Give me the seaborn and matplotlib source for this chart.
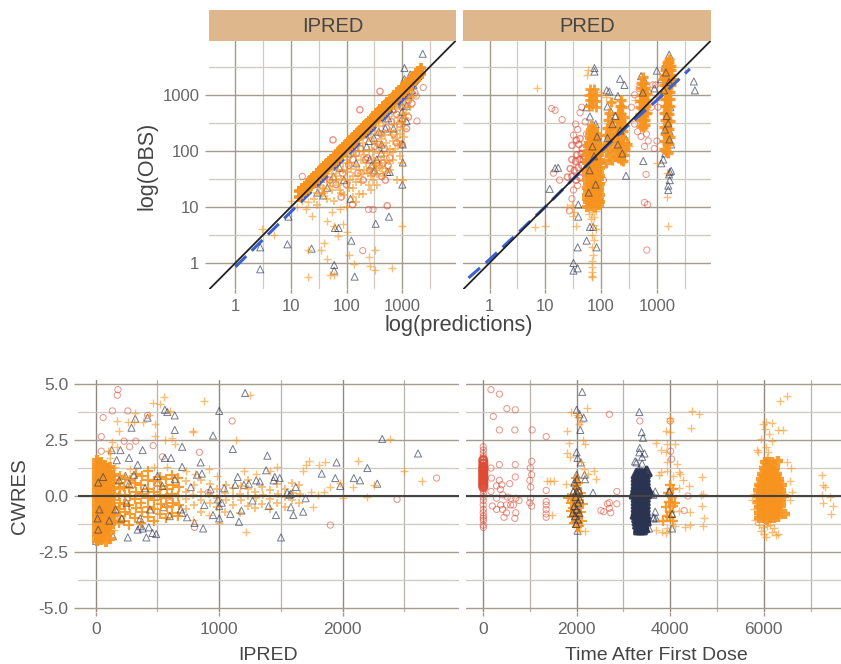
import matplotlib
matplotlib.use("Agg")
import matplotlib.pyplot as plt
import pandas as pd
import seaborn as sns

sns.set_theme(style="white")
plt.rcParams['font.family'] = ['Liberation Sans', 'DejaVu Sans']

# IPRED vs OBS
tl_band_x = [14,16,18,20,22, 24,27,30,33,36, 40,44,49,54,60, 66,73,80,88,97, 107,118,130,143,158,
             174,192,211,233,257, 283,312,344,379,418, 461,508,560,617,680, 750,826,911,1004,1107,
             1220,1345,1483,1635,1802, 1987,2190]
tl_band_low = [15,17,19,21,23, 26,28,32,35,38, 42,47,51,57,63, 70,77,85,93,103, 113,125,137,151,167,
               184,203,223,246,272, 299,330,363,400,442, 487,537,592,652,719, 793,873,963,1061,1170,
               1289,1421,1567,1728,1905, 2100,2315]
tl_band_high = [19,22,24,27,30, 33,36,40,45,49, 54,60,67,73,81, 89,99,108,119,131, 145,159,176,193,213,
                235,259,285,315,347, 382,421,464,512,564, 622,686,756,833,918, 1012,1115,1230,1355,1494,
                1647,1816,2002,2207,2433, 2682,2957]
tl_plus = [(10,13),(13,10),(16,13),(20,12),(26,14),(19,9),(24,7),(30,11),(36,17),(45,14),(40,21),(55,20),
           (60,13),(70,25),(80,18),(95,30),(110,22),(130,35),(150,28),(170,45),(200,38),(220,60),(260,50),
           (300,75),(340,60),(380,90),(430,120),(480,80),(520,140),(600,110),(650,190),(700,150),(800,240),
           (850,130),(950,300),(1050,450),(1150,380),(1250,600),(1350,800),(1500,1100),(1000,60),(1050,30),
           (800,30),(600,45),(450,35),(350,25),(280,20),(200,17),(150,12),(100,10),(75,9),(55,8),(45,5.5),
           (60,4.5),(85,5),(100,3.5),(70,3),(40,2.3),(35,1.7),(20,1.7),(45,1.2),(110,1.4),(135,0.95),(50,0.6),
           (60,0.62),(20,0.55),(250,1.3),(330,1.7),(260,0.9),(330,0.75),(650,0.8),(3,4),(5,3.2),(1000,4.5),
           (130,15),(170,17),(250,25),(300,30),(400,50),(500,60),(700,70),(900,80),(1100,250),(900,200),
           (400,200),(300,150),(200,100),(150,80),(110,60),(85,45),(65,35),(50,28),(38,22),(30,18),
           (240,40),(320,55),(420,70),(560,90),(760,110),(180,28),(130,22),(90,16),(360,38),(520,42),
           (35,28),(45,30),(55,38),(70,45),(85,60),(100,70),(120,85),(140,100),(170,120),(200,140),(240,170),(280,200),
           (330,230),(390,280),(460,330),(550,400),(650,470),(780,560),(920,670),(1100,800),(1300,950),(1500,1300),
           (40,18),(50,24),(65,30),(80,32),(100,42),(120,48),(150,55),(180,70),(210,85),(250,105),(300,100),(350,130),
           (420,160),(500,190),(600,230),(720,300),(850,380),(1000,330),(1200,480),(1400,600),(1600,900),(75,20),(115,30),
           (160,35),(210,45),(275,35),(340,45),(440,50),(580,65),(680,95),(820,170),(960,130),(1080,180)]
tl_circ = [(16,35),(25,30),(30,25),(40,35),(50,30),(65,25),(57,157),(85,40),(100,25),(110,55),(128,11),(150,90),
           (160,40),(174,540),(200,30),(220,70),(260,45),(250,9),(300,9),(350,60),(380,130),(400,1150),(430,35),
           (480,110),(500,30),(540,10.5),(560,55),(700,200),(800,140),(900,300),(1000,130),(1200,250),(1300,400),
           (1800,950),(1850,340),(2400,1350),(80,15),(196,1.66),(600,75),(450,60),(300,40),
           (130,70),(180,110),(240,75),(320,120),(420,200),(520,260),(650,330),(800,450),(1000,600),(1300,800),(1500,700),(1700,1100)]
tl_tri = [(2350,5400),(1100,3000),(2.8,1.9),(2.8,0.77),(8.6,2.15),(23.5,1.8),(9,6.7),(62,4.2),(72,4.2),(60,0.92),
          (60,0.73),(140,0.57),(122,2.5),(335,5),(580,6.7),(118,14),(1010,25),(600,42),(540,42),(1030,62),(1030,130),
          (1200,340),(260,70),(320,45),(58,35),(38,16),(1300,1000),(1500,1200),(1000,500),(700,250),(500,250),
          (420,90),(350,70),(280,55),(150,60),(90,30),(45,22),(30,18),(24,26),(1100,1900),(900,1000),(1400,2300),
          (25,36),(34,32),(60,60),(75,50),(110,90),(180,190),(230,120),(310,170),(380,220),(560,380),(680,560),(820,700),
          (1000,380),(1200,640),(1600,1500),(430,130),(250,150)]
tl_fit_x = [1, 3, 10, 30, 100, 300, 1000, 2500]
tl_fit_y = [0.85, 2.5, 8.2, 24, 80, 240, 790, 2300]

# PRED vs OBS
tr_plus = [(56,10),(66,10.5),(78,10),(92,11),(58,12),(68,12),(80,12.5),(94,12),(55,14),(66,14),(79,14.5),(91,14),
           (57,16),(67,16.5),(80,16),(95,16),(58,19),(69,19),(81,19.5),(93,19),(56,22),(66,22),(78,23),(92,22),
           (59,26),(69,26),(80,26.5),(95,26),(57,30),(67,31),(79,30),(92,31),(58,35),(68,35),(81,36),(94,35),
           (56,42),(66,42),(79,43),(91,42),(58,50),(69,50),(81,51),(95,50),(57,60),(67,60),(79,61),(92,60),
           (58,70),(69,71),(80,70),(94,70),(57,85),(66,85),(78,86),(90,85),(59,100),(68,100),(80,101),(92,100),
           (58,120),(69,120),(81,121),(94,120),(60,140),(70,141),(82,140),(62,170),(72,170),(83,171),(64,200),
           (74,200),(84,201),(66,240),(76,240),(70,280),(60,7.5),(70,8),(80,8.5),(65,6),(75,6.5),(72,4.8),(80,4),
           (68,3.2),(75,2.6),(70,1.9),(72,1.4),(68,1.1),(70,0.85),(68,0.68),(70,0.58),(68,0.55),
           (60,620),(70,640),(80,600),(62,800),(72,820),(82,790),(60,1000),(70,1020),(80,1000),(64,1250),(74,1280),
           (58,2800),(56,2300),(7,1300),(30,11),(25,10),(33,8),(32,7),(35,4.6),(10,4.5),(6.5,4.4),
           (125,60),(140,80),(160,70),(125,100),(145,110),(165,95),(130,140),(150,150),(170,130),(125,190),(145,200),
           (165,180),(130,260),(150,270),(170,240),(135,360),(155,340),(140,480),(185,80),(205,75),(225,70),(250,65),
           (190,110),(210,105),(235,100),(260,85),(190,150),(215,140),(240,135),(270,110),(195,200),(220,190),(245,170),
           (290,130),(195,270),(220,260),(250,230),(200,360),(225,340),(255,300),(205,480),(230,460),(255,400),(215,640),
           (240,600),(225,800),(320,120),(100,1100),(120,900),(150,750),
           (510,280),(560,270),(610,290),(500,360),(550,350),(605,360),(495,460),(545,450),(600,470),(660,480),
           (490,600),(540,590),(590,600),(650,620),(500,780),(550,770),(600,790),(660,800),(510,1000),(560,1000),
           (610,1020),(670,1050),(520,1300),(570,1300),(620,1320),(530,1650),(580,1650),(560,2100),(400,800),
           (1320,110),(1450,100),(1600,90),(1350,150),(1500,140),(1650,130),(1400,200),(1550,190),(1700,180),(1350,270),
           (1500,260),(1650,250),(1400,360),(1550,350),(1700,340),(1350,480),(1500,470),(1650,460),(1400,640),(1550,630),
           (1700,620),(1400,850),(1550,840),(1700,830),(1380,1100),(1540,1100),(1700,1100),(1350,1500),(1480,1500),(1620,1500),
           (1780,1500),(1300,1900),(1440,1900),(1580,1900),(1720,1900),(1860,1900),(1350,2300),(1480,2300),(1620,2300),(1760,2300),
           (1400,2800),(1540,2800),(1680,2800),(1820,2800),(1480,3300),(1620,3300),(1760,3300),(1540,3900),(1680,3900),(1620,4400),
           (1500,40),(1550,15),(1600,4.5),(1000,60)]
tr_circ = [(13,570),(15,530),(20,360),(35,300),(38,240),(32,190),(36,155),(42,165),(30,125),(40,130),(46,110),(37,85),
           (44,90),(50,80),(30,70),(35,65),(41,70),(28,48),(33,45),(39,50),(45,55),(25,34),(30,35),(36,30),(42,33),
           (14,40),(18,30),(32,20),(38,24),(30,14),(27,8.5),(48,70),(52,40),(55,200),(52,330),(45,600),(42,480),
           (110,30),(400,300),(450,220),(520,180),(600,120),(650,200),(700,150),(900,110),(1000,150),(1100,900),
           (800,600),(700,1100),(850,1500),(600,12),(680,11),(640,38),(660,1.7),(480,1300),(400,1000),(350,600),
           (560,850),(950,1500),(1050,600)]
tr_tri = [(1660,5200),(76,3000),(76,2600),(219,1930),(262,1500),(4600,1730),(4800,1200),(126,1200),(140,1150),(520,2150),
          (55,600),(63,410),(15,49),(17,50),(12,21),(280,36),(570,66),(1200,60),(1300,70),(1600,20),(1600,24),(1700,30),
          (1800,44),(1700,42),(1650,38),(39,6.7),(63,4.4),(72,4.4),(55,2.5),(83,1.9),(38,1.9),(32,1),(32,0.73),(38,0.8),
          (95,14),(39,11),(1000,2700),(1200,1900),(900,1300),(1500,700),(1700,220),(1400,90),(1800,130),(150,500),(220,350),
          (280,160),(80,300),(90,150),(60,150),(70,60),(75,28),(110,60),(130,620),(200,950),(600,1800),(1400,3300),(1750,600)]
# dark marks that show on top of the orange columns
tr_tri_top = [(62,45),(80,25),(70,120),(85,180),(60,18),(75,80),(130,170),(160,300),(200,130),(240,90),(180,420),
              (220,230),(1450,2500),(1650,1700),(1500,420),(1680,160),(1400,240),(1600,310),(1350,1200),(560,1100)]
tr_fit_x = [0.42, 1, 3, 10, 30, 100, 300, 1000, 3900]
tr_fit_y = [0.54, 1.15, 3.2, 10, 30, 98, 280, 800, 2900]

# CWRES vs IPRED
bl_plus = [(8,-2.0),(8,-1.85),(10,-1.7),(7,-1.55),(9,-1.4),(8,-1.25),(10,-1.1),(7,-0.95),(9,-0.8),(8,-0.65),(10,-0.5),(7,-0.35),
           (9,-0.2),(8,-0.05),(10,0.1),(7,0.25),(9,0.4),(8,0.55),(10,0.7),(7,0.85),(9,1.0),(8,1.15),(10,1.3),(7,1.45),(9,1.6),
           (40,-1.95),(42,-1.8),(38,-1.65),(41,-1.5),(40,-1.35),(42,-1.2),(38,-1.05),(41,-0.9),(40,-0.75),(42,-0.6),(38,-0.45),
           (41,-0.3),(40,-0.15),(42,0.0),(38,0.15),(41,0.3),(40,0.45),(42,0.6),(38,0.75),(41,0.9),(40,1.05),(42,1.2),(38,1.35),(41,1.5),
           (80,-2.05),(82,-1.8),(78,-1.6),(81,-1.45),(80,-1.3),(82,-1.15),(78,-1.0),(81,-0.85),(80,-0.7),(82,-0.55),(78,-0.4),
           (81,-0.25),(80,-0.1),(82,0.05),(78,0.2),(81,0.35),(80,0.5),(82,0.65),(78,0.8),(81,0.95),(80,1.1),(82,1.25),(78,1.4),
           (115,-1.9),(118,-1.6),(112,-1.4),(116,-1.2),(115,-1.05),(118,-0.9),(112,-0.75),(116,-0.6),(115,-0.45),(118,-0.3),
           (112,-0.15),(116,0.0),(115,0.15),(118,0.3),(112,0.45),(116,0.6),(115,0.75),(118,0.9),(112,1.05),(116,1.3),(115,1.7),(118,2.0),
           (150,-1.5),(155,-1.1),(150,-0.8),(155,-0.5),(150,-0.2),(155,0.1),(150,0.4),(155,0.7),(150,1.0),(155,1.3),(170,2.2),(100,2.0),
           (190,-1.2),(195,-0.9),(190,-0.6),(195,-0.3),(190,0.0),(195,0.3),(190,0.6),(195,0.9),(230,-1.1),(235,-0.7),(230,-0.35),
           (235,0.05),(230,0.4),(235,0.8),(270,-1.3),(275,-0.8),(270,-0.4),(275,0.0),(270,0.35),(275,0.7),(280,1.2),(320,-1.0),(325,-0.55),
           (320,-0.15),(325,0.2),(320,0.6),(325,1.0),(370,-1.2),(375,-0.7),(370,-0.3),(375,0.1),(370,0.5),(375,0.9),(420,-0.95),(425,-0.5),
           (420,-0.1),(425,0.3),(420,0.7),(425,1.1),(470,-1.1),(475,-0.6),(470,-0.2),(475,0.2),(470,0.65),(475,1.3),(520,-0.8),(525,-0.35),
           (520,0.05),(525,0.45),(520,0.85),(570,-1.0),(575,-0.5),(570,-0.1),(575,0.3),(570,0.75),(580,1.3),(620,-0.75),(625,-0.3),(620,0.1),
           (625,0.5),(620,0.95),(670,-0.9),(675,-0.4),(670,0.0),(675,0.4),(670,0.8),(730,-0.6),(735,-0.15),(730,0.2),(735,0.65),(730,1.1),
           (790,-1.05),(795,-0.4),(790,0.05),(795,0.5),(800,1.0),(850,-0.7),(855,-0.2),(850,0.2),(855,0.7),(920,-0.85),(925,-0.3),(920,0.1),
           (925,0.55),(920,1.2),(980,-0.5),(985,-0.1),(980,0.3),(985,0.9),(1050,-0.7),(1055,-0.2),(1050,0.15),(1055,0.5),(1110,-0.4),(1115,0.0),
           (1110,0.35),(1170,-0.75),(1175,-0.2),(1170,0.1),(1175,0.45),(1200,1.1),(1230,-0.45),(1235,0.0),(1230,0.3),(1235,0.7),(1290,-0.55),
           (1295,-0.1),(1290,0.2),(1350,-0.35),(1355,0.05),(1350,0.4),(1410,-0.6),(1415,-0.15),(1410,0.25),(1410,1.1),(1470,-0.3),(1475,0.1),
           (1470,0.55),(1470,1.3),(1530,-0.5),(1535,-0.05),(1530,0.3),(1590,-0.2),(1595,0.15),(1590,0.6),(1650,-0.3),(1655,0.1),(1650,0.5),
           (1680,1.1),(1700,1.4),(1740,0.2),(1730,1.55),(1760,-0.5),(1800,0.05),(1810,1.4),(1850,0.2),(1860,1.5),(1900,0.4),(1980,0.6),
           (2000,-0.1),(2080,0.4),(2120,1.55),(2200,-0.05),(2250,0.5),(2380,2.55),(2500,1.1),(2640,0.65),(1220,-1.6),(1250,4.5),
           (880,4.25),(460,4.15),(550,4.4),(520,4.1),(430,3.6),(380,3.3),(310,3.3),(260,3.3),(170,3.35),(190,2.9),(320,3.7),(480,3.2),
           (600,3.8),(620,2.6),(790,2.9),(790,2.85),(1140,2.5),(560,2.5),(640,2.3),(480,2.7),(130,2.4),(1300,1.0),(1000,-1.2)]
bl_circ = [(180,4.75),(175,4.5),(60,3.5),(135,3.8),(260,3.8),(325,2.45),(230,2.45),(275,2.2),(465,2.25),(45,2.65),(45,2.0),
           (1105,3.35),(840,1.95),(540,1.75),(2760,0.8),(2440,-0.15),(1900,-1.3),(910,0.15),(800,-1.4),(420,3.6),(120,1.2),
           (300,0.5),(600,-0.3),(150,-1.0)]
bl_tri = [(3,-2.0),(140,-1.8),(260,-1.85),(410,-1.85),(490,-1.7),(460,-1.65),(340,-1.5),(360,-1.35),(560,3.85),(580,3.75),(640,3.6),
          (1000,3.8),(1210,4.6),(320,3.45),(420,3.5),(290,3.05),(640,2.95),(700,2.2),(380,2.05),(130,2.05),(200,2.05),(950,2.7),(1110,2.1),
          (560,1.7),(610,1.7),(270,1.7),(170,1.6),(850,1.5),(1390,1.8),(1950,1.5),(2320,2.55),(2610,1.9),(2200,1.25),(1830,1.0),(1380,1.15),
          (1940,0.8),(2090,0.8),(2140,0.7),(2280,0.55),(1980,0.45),(860,1.0),(700,1.3),(340,1.4),(1150,0.85),(1450,0.85),(1200,0.5),(1300,0.7),
          (1580,0.1),(1600,-0.85),(1680,-0.7),(1460,-0.85),(1500,-1.85),(870,-1.45),(1160,-1.15),(1000,-1.0),(950,-0.85),(700,-0.75),(800,-1.2),
          (380,-1.45),(430,-1.4),(500,0.6),(240,0.9),(1020,-0.3),(550,-0.5),(140,-0.6),(60,0.9),(1090,-0.8)]
bl_tri_top = [(20,-1.5),(30,-0.6),(20,0.6),(60,0.85),(15,-1.0),(110,-1.1),(160,-0.6),(210,-1.0),(250,-0.3),(190,0.7),(270,0.55),
              (310,0.95),(360,-1.0),(400,0.35),(440,-0.6),(500,0.9),(540,0.45),(600,-0.9),(640,0.75),(690,-0.6),(740,-0.95),(770,0.4),
              (820,0.95),(880,-0.4),(930,0.3),(990,-0.15),(1040,0.35),(1000,-0.45),(1130,0.5),(1180,-0.65),(1240,0.55),(1270,-0.2),
              (1330,0.65),(1400,-0.45),(1440,0.7),(1490,0.8),(1550,0.15),(1570,0.05),(1620,0.4),(1580,-0.5),(1700,-0.1)]

# CWRES vs time after first dose
br_plus = [(1780,0.55),(2020,-1.2),(1820,-0.1),(1870,-0.3),(1920,-0.55),(1960,-0.85),(2040,-0.95),(2090,-0.7),(2140,-0.35),(1880,-0.65),
           (1930,-0.15),(1970,0.1),(2010,-0.4),(2060,-0.05),(2100,0.15),(1900,-0.95),(1950,-1.2),(2000,-1.4),(2060,-1.35),(2110,-1.1),
           (2000,0.35),(2030,0.6),(1990,0.8),(2040,-0.7),(1980,-0.25),(2020,0.05),(1960,-0.6),(2000,-1.0),(2040,-0.2),(1980,0.5),
           (1800,2.9),(1870,3.75),(2030,3.55),(2220,3.95),(2010,3.6),(2060,3.2),(2090,3.3),(2130,2.5),(2170,2.3),(1840,2.35),(1800,1.9),(1860,1.75),
           (2100,1.5),(2150,1.2),(2250,1.0),(2370,1.1),(2420,0.75),(1470,-0.85),(1430,0.65),(1510,0.65),(1360,0.65),(2190,-1.55),(2070,-1.55),
           (3820,-1.6),(3900,-1.65),(3940,-1.45),(4110,-1.35),(4310,-1.4),(4420,-1.3),(4700,-1.35),(3690,-1.5),(3850,-1.1),(3930,-0.9),(4000,-0.7),
           (4050,-0.45),(3980,-0.25),(4030,-0.05),(3950,0.15),(4060,0.3),(4000,0.5),(4100,-0.3),(4180,-0.65),(3920,-0.5),(4000,-0.95),(4070,-1.1),
           (4190,0.35),(4280,0.7),(4190,1.05),(4150,1.45),(4220,1.0),(4050,0.9),(3940,1.1),(3800,1.05),(3930,1.5),(3920,1.95),(3700,2.35),(3810,2.05),
           (3930,2.3),(4100,2.3),(4000,2.85),(4000,3.5),(3900,2.9),(4440,3.05),(4000,3.35),(4610,3.65),(4470,3.8),(4670,0.85),(4650,0.05),(4710,0.1),
           (4670,-0.45),(4420,-0.7),(4720,-1.0),(4400,0.45),(3750,0.95),(5850,2.05),(5880,1.95),
           (5900,-1.0),(5980,-1.0),(6060,-1.05),(6140,-1.0),(6220,-1.0),(6300,-0.95),(5900,-0.75),(5980,-0.75),(6060,-0.7),(6140,-0.75),(6220,-0.75),(6300,-0.7),
           (5890,-0.5),(5970,-0.5),(6050,-0.5),(6130,-0.5),(6210,-0.5),(6290,-0.5),(6370,-0.45),(5880,-0.25),(5960,-0.25),(6040,-0.25),(6120,-0.25),(6200,-0.25),(6280,-0.25),(6370,-0.25),
           (5870,0.0),(5950,0.0),(6030,0.0),(6110,0.0),(6190,0.0),(6270,0.0),(6350,0.0),(6430,0.0),(5880,0.25),(5960,0.25),(6040,0.25),(6120,0.25),(6200,0.25),(6280,0.25),(6360,0.25),
           (5900,0.5),(5980,0.5),(6060,0.5),(6140,0.5),(6220,0.5),(6300,0.5),(6380,0.5),(5930,0.75),(6010,0.75),(6090,0.75),(6170,0.75),(6250,0.75),(6330,0.75),(5960,1.0),(6040,1.0),(6120,1.0),(6200,1.0),(6280,1.0),
           (6000,1.25),(6080,1.25),(6160,1.25),(6240,1.25),(6020,1.5),(6100,1.5),(6180,1.5),(6300,1.55),(6060,1.75),(6100,1.95),(6040,2.2),(6180,2.45),(5950,2.55),(6120,2.75),(6030,3.0),(5990,3.2),(6040,3.3),(6180,3.25),(6300,2.95),(6420,2.95),
           (5800,0.1),(5750,-0.2),(5780,-0.6),(5820,-1.05),(5890,-1.3),(5980,-1.4),(6060,-1.35),(6140,-1.3),(6220,-1.45),(6000,-1.7),(6050,-1.85),(6180,-1.6),(6250,-1.75),(6300,-1.7),(5950,-1.55),
           (6550,-0.2),(6600,0.2),(6550,0.65),(6580,1.25),(6450,-0.8),(6500,1.5),(6350,4.25),(6500,4.45),
           (7240,0.95),(7260,0.5),(7240,0.05),(7300,0.4),(7420,-0.05),(7480,-0.45),(7440,-0.8),(7270,-0.3)]
br_circ = [(5,2.2),(8,2.05),(5,1.9),(8,1.75),(5,1.6),(8,1.45),(5,1.3),(8,1.2),(5,1.1),(8,1.0),(5,0.9),(8,0.8),(5,0.7),(8,0.6),(5,0.5),(8,0.4),(5,0.25),(8,0.1),
           (5,-0.05),(8,-0.2),(5,-0.4),(8,-0.6),(5,-0.75),(8,-0.9),(5,-1.0),(8,-1.1),(5,-1.3),(8,-1.4),
           (170,4.75),(350,4.55),(510,3.9),(690,3.85),(220,3.55),(350,2.95),(680,2.95),(1050,2.95),(1350,2.65),(350,1.4),(690,1.4),(170,1.25),(1040,1.55),(1010,1.25),
           (1040,0.95),(690,0.85),(570,0.55),(1000,0.7),(1020,0.4),(180,0.8),(350,0.7),(400,0.5),(290,0.45),(370,0.3),(170,0.2),(290,-0.1),(420,0.05),(520,-0.05),(600,-0.1),(700,-0.1),
           (770,-0.2),(650,-0.4),(700,-0.75),(1020,-0.1),(1000,-0.3),(380,-0.4),(290,-0.6),(200,-0.45),(500,-0.4),(590,-0.4),(1350,0.25),(1350,-0.25),(1350,-0.6),(1350,-0.8),(1350,-0.95),
           (1350,-0.4),(420,-0.6),(500,-0.75),(450,-0.95),(680,-1.0),(1040,-0.45),(2700,-0.3),(2660,-0.35),(2700,-0.55),(2580,-0.7),(2520,-0.65),(2730,-0.75),(2860,-0.35),(2860,0.2),
           (2700,3.65),(3350,3.35),(4000,3.35),(4030,1.65),(4010,2.0),(4300,-0.65),(4380,0.0)]
br_tri = [(2120,4.65),(2000,3.85),(2060,3.65),(2150,3.5),(2080,2.95),(2000,1.95),(2020,1.7),(2090,1.5),(2000,0.95),(2170,0.95),(2180,0.75),(2350,0.15),
          (2000,0.45),(2030,0.3),(1990,0.1),(2010,-0.1),(2040,-0.35),(1970,-0.45),(2000,-0.65),(2050,-0.85),(1990,-1.05),(2020,-1.55),
          (3340,3.75),(3390,2.85),(3420,2.6),(3350,2.15),(3340,1.95),(3400,1.75),(3450,1.9),(3400,1.45),(3500,1.1),(3280,1.5),(3250,1.55),(3330,1.2),
          (3280,1.0),(3340,1.0),(3400,1.0),(3460,1.0),(3280,0.85),(3340,0.85),(3400,0.85),(3460,0.85),(3280,0.7),(3340,0.7),(3400,0.7),(3460,0.7),
          (3280,0.55),(3340,0.55),(3400,0.55),(3460,0.55),(3270,0.4),(3330,0.4),(3390,0.4),(3450,0.4),(3510,0.35),(3270,0.25),(3330,0.25),(3390,0.25),(3450,0.25),(3530,0.2),(3680,0.2),
          (3240,0.1),(3300,0.1),(3360,0.1),(3420,0.1),(3480,0.1),(3600,0.1),(3640,0.05),(3280,-0.05),(3340,-0.05),(3400,-0.05),(3460,-0.05),(3280,-0.2),(3340,-0.2),(3400,-0.2),(3460,-0.2),
          (3280,-0.35),(3340,-0.35),(3400,-0.35),(3460,-0.35),(3280,-0.5),(3340,-0.5),(3400,-0.5),(3460,-0.5),(3280,-0.65),(3340,-0.65),(3400,-0.65),(3460,-0.65),(3290,-0.8),(3350,-0.8),(3410,-0.8),(3470,-0.8),
          (3290,-0.95),(3350,-0.95),(3410,-0.95),(3470,-0.95),(3300,-1.1),(3360,-1.1),(3420,-1.1),(3480,-1.1),(3310,-1.25),(3370,-1.25),(3430,-1.25),(3330,-1.4),(3390,-1.4),(3450,-1.4),
          (3330,-1.5),(3400,-1.5),(3550,-1.45),(3260,-0.8),(3680,-0.7),(3650,-0.95),(3700,-1.0),(3640,-1.0),(4040,-1.45),(3200,0.15)]
br_tri_top = [(1950,0.6),(2010,0.75),(2050,0.25),(1930,0.2),(1980,-0.05),(2030,-0.3),(1950,-0.45),(2000,-0.6),(2060,-0.75),(1970,-0.9),
              (2030,-1.05),(1990,-1.25),(2070,-0.15),(1920,-0.75),(2000,0.2),(4040,-0.8),(3980,0.2)]

major_col = "#a59c8e"
minor_col = "#cfc9bf"
plus_col = "#f7931e"
circ_col = "#df4a33"
tri_col = "#2a3350"
blue_col = "#3c60cf"
text_col = "#444444"
tick_col = "#666666"

fig = plt.figure(figsize=(8.41, 6.64), dpi=100)


def panel(left, top, right, bottom):
    ax = fig.add_axes([left / 841, 1 - bottom / 664, (right - left) / 841, (bottom - top) / 664])
    for s in ax.spines.values():
        s.set_visible(False)
    ax.set_axisbelow(True)
    ax.grid(which="major", color=major_col, lw=1.0)
    ax.grid(which="minor", color=minor_col, lw=0.9)
    ax.tick_params(which="major", length=3, width=1, color=major_col, labelcolor=tick_col, labelsize=12.5, pad=4,
                   bottom=True, left=True)
    ax.tick_params(which="minor", length=0)
    return ax


def draw(ax, points, marker, color, size, lw, alpha, z, boxes=()):
    # boxes mark the crowded parts of a cloud, which read as solid in the original
    df = pd.DataFrame(points, columns=["x", "y"])
    df["w"] = lw
    for x0, x1, y0, y1, w in boxes:
        df.loc[df.x.between(x0, x1) & df.y.between(y0, y1), "w"] = w
    for w, sub in df.groupby("w"):
        heavy = w > 1.4
        kw = dict(color=color) if marker == "+" else dict(facecolors="none", edgecolor=color)
        sns.scatterplot(data=sub, x="x", y="y", marker=marker, s=size * 1.5 if heavy else size, linewidth=w,
                        alpha=min(1, alpha + 0.3) if heavy else alpha, ax=ax, zorder=z, **kw)
    ax.set_xlabel("")
    ax.set_ylabel("")


def marks(ax, circ, tri, plus, circ_boxes=(), tri_boxes=(), plus_boxes=()):
    draw(ax, circ, "o", circ_col, 20, 0.7, 0.6, 3, circ_boxes)
    draw(ax, tri, "^", tri_col, 26, 0.7, 0.65, 4, tri_boxes)
    draw(ax, plus, "+", plus_col, 36, 1.0, 0.6, 5, plus_boxes)


def log_axes(ax, show_y):
    ax.set_xscale("log")
    ax.set_yscale("log")
    ax.set_xlim(10 ** -0.475, 10 ** 3.97)
    ax.set_ylim(10 ** -0.465, 10 ** 3.96)
    for axis in (ax.xaxis, ax.yaxis):
        axis.set_major_locator(matplotlib.ticker.FixedLocator([1, 10, 100, 1000]))
        axis.set_minor_locator(matplotlib.ticker.FixedLocator([10 ** 0.5, 10 ** 1.5, 10 ** 2.5, 10 ** 3.5]))
        axis.set_major_formatter(matplotlib.ticker.FixedFormatter(["1", "10", "100", "1000"]))
        axis.set_minor_formatter(matplotlib.ticker.NullFormatter())
    ax.tick_params(labelsize=12)
    if not show_y:
        ax.tick_params(left=False, labelleft=False)
    ax.plot([0.1, 100000], [0.1, 100000], color="#222222", lw=1.3, zorder=6)


def strip(left, right, label):
    s = fig.add_axes([left / 841, 1 - 41 / 664, (right - left) / 841, 31 / 664])
    s.set_facecolor("#dfb78c")
    s.set_xticks([])
    s.set_yticks([])
    for sp in s.spines.values():
        sp.set_visible(False)
    s.text(0.5, 0.47, label, ha="center", va="center", color="#444444", fontsize=14.5, transform=s.transAxes)


def bottom_grid(ax):
    # vertical lines run greyer than the tan horizontals here
    ax.grid(which="major", axis="x", color="#8f8b84", lw=1.0)
    ax.grid(which="minor", axis="x", color="#b8b4ac", lw=0.9)


# top row
ax1 = panel(209, 41, 456, 289)
log_axes(ax1, True)
marks(ax1, tl_circ, tl_tri, tl_plus, circ_boxes=[(25, 1600, 10, 1500, 1.0)], plus_boxes=[(25, 1600, 10, 1500, 1.3)])
band = list(zip(tl_band_x, tl_band_low)) + list(zip(tl_band_x, tl_band_high))
draw(ax1, band, "+", plus_col, 36, 2.6, 0.7, 5.2)
sns.lineplot(x=tl_fit_x, y=tl_fit_y, color=blue_col, lw=2.2, ax=ax1, zorder=5.1, linestyle=(0, (5, 2.5)))

ax2 = panel(463, 41, 711, 289)
log_axes(ax2, False)
marks(ax2, tr_circ, tr_tri, tr_plus,
      circ_boxes=[(25, 50, 30, 170, 1.1)],
      plus_boxes=[(55, 100, 9, 300, 2.8), (55, 85, 590, 1300, 2.0), (120, 300, 60, 800, 2.4),
                  (490, 680, 270, 2100, 2.4), (1300, 1900, 90, 4500, 2.4)])
draw(ax2, tr_tri_top, "^", tri_col, 26, 0.7, 0.6, 5.3)
sns.lineplot(x=tr_fit_x, y=tr_fit_y, color=blue_col, lw=2.2, ax=ax2, zorder=5.5, linestyle=(0, (5, 2.5)))

strip(209, 456, "IPRED")
strip(463, 711, "PRED")

# bottom row
ax3 = panel(78, 380, 459, 612)
ax3.set_xlim(-(95.7 - 78) / 0.1235, (459 - 95.7) / 0.1235)
ax3.set_ylim(-5.18, 5.18)
ax3.set_xticks([0, 1000, 2000])
ax3.set_xticks([500, 1500, 2500], minor=True)
ax3.set_yticks([-5, -2.5, 0, 2.5, 5])
ax3.set_yticklabels(["-5.0", "-2.5", "0.0", "2.5", "5.0"])
ax3.set_yticks([-3.75, -1.25, 1.25, 3.75], minor=True)
bottom_grid(ax3)
marks(ax3, bl_circ, bl_tri, bl_plus,
      plus_boxes=[(0, 130, -2.1, 1.6, 3.0), (130, 700, -1.3, 1.1, 1.6), (700, 1700, -0.8, 0.7, 1.3)])
draw(ax3, bl_tri_top, "^", tri_col, 26, 0.7, 0.6, 5.3)
ax3.axhline(0, color="#444444", lw=1.5, zorder=6)

ax4 = panel(466, 380, 841, 612)
ax4.set_xlim(-(483 - 466) / 0.0468, (841 - 483) / 0.0468)
ax4.set_ylim(-5.18, 5.18)
ax4.set_xticks([0, 2000, 4000, 6000])
ax4.set_xticks([1000, 3000, 5000, 7000], minor=True)
ax4.set_yticks([-5, -2.5, 0, 2.5, 5])
ax4.set_yticks([-3.75, -1.25, 1.25, 3.75], minor=True)
ax4.tick_params(left=False, labelleft=False)
bottom_grid(ax4)
marks(ax4, br_circ, br_tri, br_plus,
      circ_boxes=[(0, 10, 0.3, 1.7, 1.8)],
      tri_boxes=[(3240, 3530, -1.5, 1.1, 2.2)],
      plus_boxes=[(5850, 6450, -1.15, 1.6, 3.2), (1820, 2150, -1.4, 0.8, 1.5), (3850, 4100, -1.1, 0.6, 1.7)])
draw(ax4, br_tri_top, "^", tri_col, 26, 0.8, 0.7, 5.3)
ax4.axhline(0, color="#444444", lw=1.5, zorder=6)

# axis titles placed by hand to line up with the original
fig.text(459 / 841, 1 - 326 / 664, "log(predictions)", ha="center", va="center", color=text_col, fontsize=15.7)
fig.text(147 / 841, 1 - 166 / 664, "log(OBS)", ha="center", va="center", rotation=90, color=text_col, fontsize=15.5)
fig.text(20 / 841, 1 - 496 / 664, "CWRES", ha="center", va="center", rotation=90, color=text_col, fontsize=14.7)
fig.text(268 / 841, 1 - 655 / 664, "IPRED", ha="center", va="center", color=text_col, fontsize=14)
fig.text(656 / 841, 1 - 655 / 664, "Time After First Dose", ha="center", va="center", color=text_col, fontsize=14)

fig.savefig("out.png", dpi=100)
